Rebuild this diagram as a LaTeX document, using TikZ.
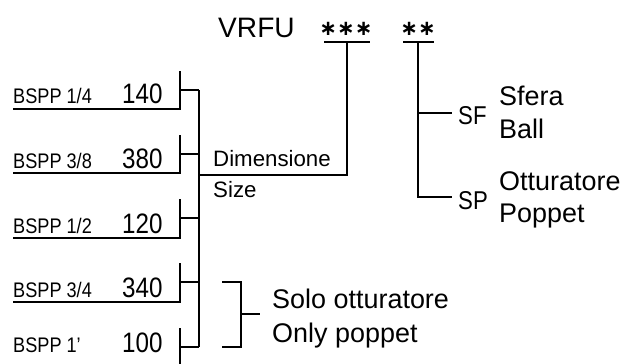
\documentclass[tikz,border=0pt]{standalone}
\usepackage{fontspec}
\usepackage{graphicx}
\setmainfont{Liberation Sans}
\newfontfamily\starfont{DejaVu Sans Bold}
\newcommand{\narrow}[1]{\scalebox{0.86}[1]{#1}}
\usetikzlibrary{positioning}

\begin{document}
\begin{tikzpicture}[
  x=0.03cm, y=-0.03cm,
  line/.style={line width=1.1pt},
  code/.style={anchor=base west, inner sep=0pt, font=\fontsize{18}{18}\selectfont},
  num/.style={anchor=base west, inner sep=0pt, font=\fontsize{24}{24}\selectfont},
  dim/.style={anchor=base west, inner sep=0pt, font=\fontsize{19}{19}\selectfont},
  note/.style={anchor=base west, inner sep=0pt, font=\fontsize{23}{23}\selectfont},
  tag/.style={anchor=base west, inner sep=0pt, font=\fontsize{22}{22}\selectfont},
  title/.style={anchor=base west, inner sep=0pt, font=\fontsize{24}{24}\selectfont},
  star/.style={inner sep=0pt, font=\starfont\fontsize{18}{18}\selectfont}
]
  \useasboundingbox (0,0) rectangle (631,364);

  \node[title] (vrfu) at (218,37) {VRFU};
  \node[star] (s3) at (346,29) {∗∗∗};
  \node[star] (s2) at (418,29) {∗∗};

  \node[code] (b1) at (13,103) {\narrow{BSPP 1/4}};
  \node[num] (n1) at (122,103) {\narrow{140}};
  \node[code] (b2) at (13,168) {\narrow{BSPP 3/8}};
  \node[num] (n2) at (122,168) {\narrow{380}};
  \node[code] (b3) at (13,233) {\narrow{BSPP 1/2}};
  \node[num] (n3) at (122,233) {\narrow{120}};
  \node[code] (b4) at (13,297) {\narrow{BSPP 3/4}};
  \node[num] (n4) at (122,297) {\narrow{340}};
  \node[code] (b5) at (13,352) {\narrow{BSPP 1’}};
  \node[num] (n5) at (122,352) {\narrow{100}};

  \node[dim] (dim) at (213,166) {Dimensione};
  \node[dim] (size) at (213,197) {Size};

  \node[tag] (sf) at (458,124) {\narrow{SF}};
  \node[note] (sfera) at (499,105) {Sfera};
  \node[note] (ball) at (499,138) {Ball};
  \node[tag] (sp) at (458,209) {\narrow{SP}};
  \node[note] (ott) at (499,190) {Otturatore};
  \node[note] (pop) at (499,222) {Poppet};

  \node[note] (solo) at (272,308) {Solo otturatore};
  \node[note] (only) at (272,342) {Only poppet};

  \coordinate (k1) at (199,90);
  \coordinate (k2) at (199,154);
  \coordinate (k3) at (199,218);
  \coordinate (k4) at (199,282);
  \coordinate (k5) at (199,347);
  \coordinate (join) at (199,175);
  \coordinate (u3) at (347,42);
  \coordinate (u2) at (418,42);
  \coordinate (tsf) at (452,113);
  \coordinate (tsp) at (452,197);
  \coordinate (q) at (241,314);

  \draw[line] (13,109) -- (180,109) -- (180,71);
  \draw[line] (180,90) -- (k1);
  \draw[line] (13,173) -- (180,173) -- (180,135);
  \draw[line] (180,154) -- (k2);
  \draw[line] (13,238) -- (180,238) -- (180,199);
  \draw[line] (180,218) -- (k3);
  \draw[line] (13,302) -- (180,302) -- (180,263);
  \draw[line] (180,282) -- (k4);
  \draw[line] (180,364) -- (180,328);
  \draw[line] (180,347) -- (k5);
  \draw[line] (k1) -- (k5);

  \draw[line] (join) -- (u3 |- join) -- (u3);
  \draw[line] (324,42) -- (370,42);
  \draw[line] (403,42) -- (434,42);
  \draw[line] (u2) -- (u2 |- tsp) -- (tsp);
  \draw[line] (u2 |- tsf) -- (tsf);

  \draw[line] (222,282) -- (241,282) -- (241,347) -- (222,347);
  \draw[line] (q) -- (260,314);
\end{tikzpicture}
\end{document}
